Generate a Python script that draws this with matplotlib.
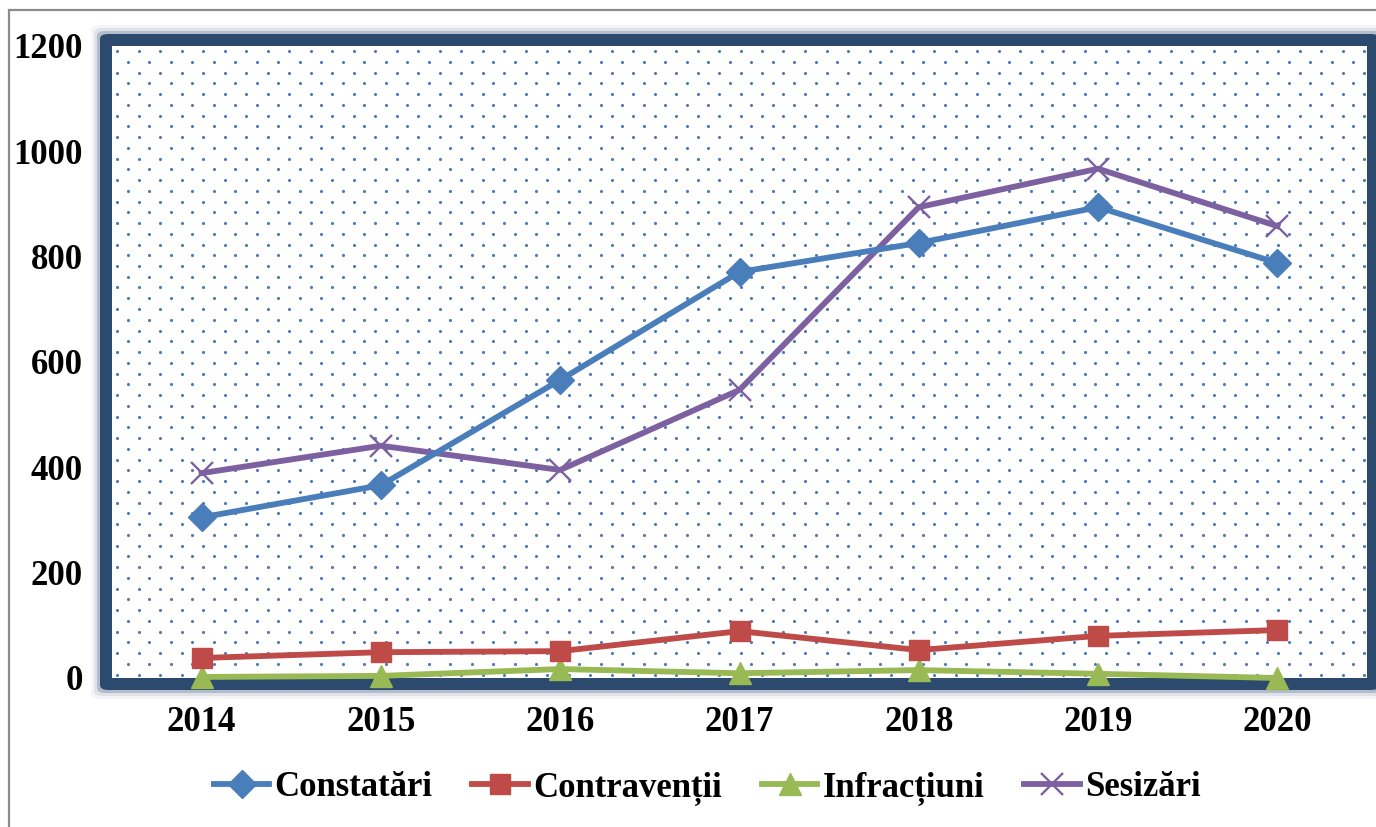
import numpy as np
import matplotlib
matplotlib.use('Agg')
import matplotlib.pyplot as plt
from matplotlib.patches import FancyBboxPatch, Rectangle

# data
years = ['2014', '2015', '2016', '2017', '2018', '2019', '2020']
constatari = [305, 366, 566, 771, 826, 894, 788]
contraventii = [38, 49, 51, 89, 53, 80, 91]
infractiuni = [2, 4, 17, 9, 15, 8, 0]
sesizari = [389, 441, 395, 547, 894, 967, 858]

series_names = ['Constatări', 'Contravenții', 'Infracțiuni', 'Sesizări']
colors = ['#4a7ebb', '#be4b48', '#98b954', '#7d60a0']

plt.rcParams['font.family'] = ['Liberation Serif', 'DejaVu Serif']
plt.rcParams['font.weight'] = 'bold'

W, H = 1376, 827
fig = plt.figure(figsize=(W / 100, H / 100), dpi=100)

# plot area in pixels
left, right, top, bottom = 112, 1367, 46, 678
ax = fig.add_axes([left / W, 1 - bottom / H, (right - left) / W, (bottom - top) / H])

# outer grey frame of the chart
fig.patches.append(Rectangle((9 / W, -0.1), 1.2, 1 - 10 / H + 0.1, transform=fig.transFigure,
                             fill=False, edgecolor='#8c8c8c', linewidth=1.6, zorder=-3))

# navy border with a soft shadow around the plot area
for k, a in [(9, 0.05), (6, 0.1), (3, 0.25), (0, 1.0)]:
    x0 = (left - 12 - k) / W
    y0 = 1 - (bottom + 12 + k) / H
    w = (right - left + 24 + 2 * k) / W
    h = (bottom - top + 24 + 2 * k) / H
    fig.patches.append(FancyBboxPatch((x0, y0), w, h, boxstyle='round,pad=0,rounding_size=0.006',
                                      transform=fig.transFigure, facecolor='#2c4a6e',
                                      edgecolor='none', alpha=a, zorder=-2))

ax.set_facecolor('white')
for s in ax.spines.values():
    s.set_visible(False)

# dotted fill pattern of the plot area
pw, ph = right - left, bottom - top
rows = np.arange(5, ph, 10.75)
dx, dy = [], []
for i, ry in enumerate(rows):
    cols = np.arange(5 + (10.75 if i % 2 else 0), pw, 21.5)
    dx.extend(cols / pw)
    dy.extend([1 - ry / ph] * len(cols))
ax.scatter(dx, dy, s=5, color='#4a7aba', linewidths=0, transform=ax.transAxes, zorder=0.5)

x = np.arange(len(years))
ax.plot(x, constatari, color=colors[0], lw=4.2, marker='D', ms=14, zorder=6, label=series_names[0])
ax.plot(x, contraventii, color=colors[1], lw=4.2, marker='s', ms=14, zorder=4, label=series_names[1])
ax.plot(x, infractiuni, color=colors[2], lw=4.2, marker='^', ms=16, zorder=3, label=series_names[2],
        clip_on=False)
ax.plot(x, sesizari, color=colors[3], lw=4.2, marker='x', ms=16, mew=1.7, zorder=5, label=series_names[3])

ax.set_xlim(-0.5, len(years) - 0.5)
ax.set_ylim(0, 1200)
ax.set_xticks(x)
ax.set_xticklabels(years)
ax.set_yticks(np.arange(0, 1201, 200))
ax.tick_params(axis='both', length=0, labelsize=25)
ax.tick_params(axis='y', pad=21)
ax.tick_params(axis='x', pad=20)

fig.legend(loc='center', bbox_to_anchor=(0.514, 0.047), ncol=4, frameon=False, fontsize=25,
           handlelength=1.6, handletextpad=0.15, columnspacing=1.15)

fig.savefig('out.png', dpi=100)
